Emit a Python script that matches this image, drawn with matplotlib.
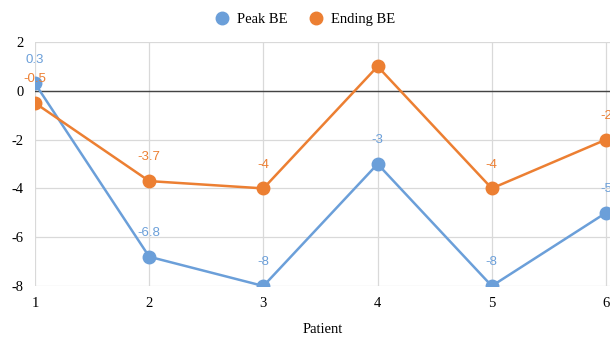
import matplotlib
matplotlib.use("Agg")
import matplotlib.pyplot as plt

plt.rcParams["axes.unicode_minus"] = False

# dados
patients = [1, 2, 3, 4, 5, 6]
peak_be = [0.3, -6.8, -8, -3, -8, -5]
ending_be = [-0.5, -3.7, -4, 1, -4, -2]
y_ticks = [-8, -6, -4, -2, 0, 2]

blue = "#6b9fd9"
orange = "#ec7f32"

fig = plt.figure(figsize=(6.1, 3.42), dpi=100)
ax = fig.add_axes([35 / 610, 56 / 342, 575 / 610, 244 / 342])

ax.plot(patients, peak_be, color=blue, lw=1.8, marker="o", ms=9, label="Peak BE", zorder=3)
ax.plot(patients, ending_be, color=orange, lw=1.8, marker="o", ms=9, label="Ending BE", zorder=3)

# rótulos dos pontos
for x, v in zip(patients, peak_be):
    ax.annotate(f"{v:g}", (x, v), xytext=(0, 17), textcoords="offset points",
                ha="center", va="center", color=blue, fontsize=9.5,
                family="Liberation Sans", annotation_clip=False)
for x, v in zip(patients, ending_be):
    if v > 0.5:
        continue  # não aparece no original
    ax.annotate(f"{v:g}", (x, v), xytext=(0, 17), textcoords="offset points",
                ha="center", va="center", color=orange, fontsize=9.5,
                family="Liberation Sans", annotation_clip=False)

ax.set_xlim(1, 1 + 575 / 114.2)
ax.set_ylim(-8, 2)
ax.set_xticks(patients)
ax.set_yticks(y_ticks)
ax.grid(True, color="#d9d9d9", lw=0.9, zorder=0)
ax.axhline(0, color="#444444", lw=1.0, zorder=2.5)
for s in ax.spines.values():
    s.set_visible(False)
ax.tick_params(length=0, labelsize=10.5, pad=8)
for lab in ax.get_xticklabels() + ax.get_yticklabels():
    lab.set_family("Liberation Serif")
ax.set_xlabel("Patient", family="Liberation Serif", fontsize=10.5, labelpad=9)

fig.legend(loc="upper center", bbox_to_anchor=(0.5, 1.0), ncol=2, frameon=False,
           prop={"family": "Liberation Serif", "size": 10.5},
           handlelength=1.0, handletextpad=0.5, columnspacing=1.5,
           markerscale=1.0)
leg = fig.legends[0]
for h in leg.legend_handles:
    h.set_linestyle("none")

fig.savefig("out.png", dpi=100)
